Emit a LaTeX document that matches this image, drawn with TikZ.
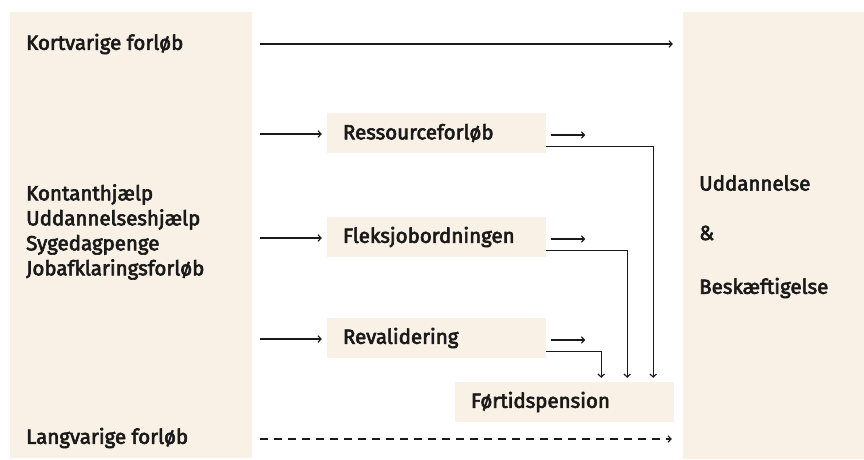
\documentclass[tikz,border=0pt]{standalone}
\usepackage{fontspec}
\setmainfont{Fira Sans}[FakeBold=3]
\usetikzlibrary{calc, arrows.meta}
\definecolor{panelbg}{RGB}{250,241,230}
\definecolor{ink}{RGB}{26,26,26}

\begin{document}
\begin{tikzpicture}[x=1pt, y=-1pt,
  panel/.style={fill=panelbg, draw=none, inner sep=0pt},
  stage/.style={fill=panelbg, inner xsep=16pt, inner ysep=0pt, minimum height=40pt,
    text width=187pt, align=left, font=\fontsize{20.5}{24}\selectfont, text=ink},
  txt/.style={anchor=west, inner sep=0pt, font=\fontsize{20.5}{25}\selectfont, text=ink, align=left},
  flow/.style={line width=1.2pt, draw=ink, -{Straight Barb[length=3pt,width=6.5pt]}}]
\useasboundingbox (0,0) rectangle (864,459);
\node[panel, minimum width=242pt, minimum height=446pt] (src) at (131,235) {};
\node[panel, minimum width=181pt, minimum height=447pt] (dst) at (773.5,235.5) {};

\node[txt] (short) at (26,44) {Kortvarige forløb};
\node[txt] (ydelse) at (26,232) {Kontanthjælp\\Uddannelseshjælp\\Sygedagpenge\\Jobafklaringsforløb};
\node[txt] (long) at (26,438) {Langvarige forløb};

\node[txt] (udd) at (699,183) {Uddannelse};
\node[txt] (og) at (699,233) {\&};
\node[txt] (besk) at (699,288) {Beskæftigelse};

\node[stage] (res) at (436.5,133) {Ressourceforløb};
\node[stage] (flex) at (436.5,237) {Fleksjobordningen};
\node[stage] (reval) at (436.5,338) {Revalidering};
\node[stage] (fortid) at (564.5,402) {Førtidspension};

\draw[flow] ($(src.east |- short)+(8,0)$) -- ($(dst.west |- short)+(-10,0)$);
\foreach \b in {res, flex, reval} {
  \draw[flow] ($(src.east |- \b)+(8,1)$) -- ($(\b.west)+(-5,1)$);
  \draw[flow] ($(\b.east)+(5,2)$) -- +(34,0);
}
\foreach \b/\dx in {res/21, flex/47, reval/73}
  \draw[flow] ([yshift=7pt]\b.south east) -| ([xshift=-\dx pt, yshift=4pt]fortid.north east);
\draw[flow, dash pattern=on 8pt off 6pt] ($(src.east |- long)+(8,1)$) -- ($(dst.west |- long)+(-11,1)$);
\end{tikzpicture}
\end{document}
